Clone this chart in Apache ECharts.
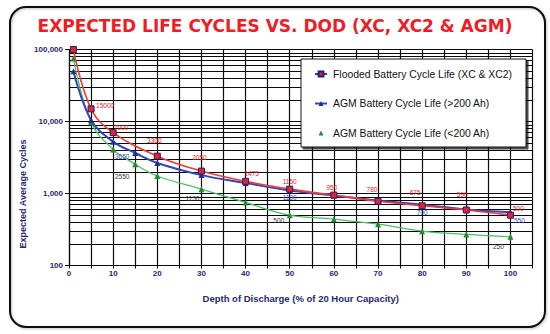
<!DOCTYPE html>
<html>
<head>
<meta charset="utf-8">
<script src="https://cdn.jsdelivr.net/npm/echarts@6/dist/echarts.min.js"></script>
<style>html,body{margin:0;padding:0;background:#fff;}#c{width:550px;height:334px;}</style>
</head>
<body>
<div id="c"></div>
<script>
// ---- data ----
const titleText = 'EXPECTED LIFE CYCLES VS. DOD (XC, XC2 & AGM)';
const xAxisTitle = 'Depth of Discharge (% of 20 Hour Capacity)';
const yAxisTitle = 'Expected Average Cycles';
const seriesNames = ['Flooded Battery Cycle Life (XC & XC2)', 'AGM Battery Cycle Life (>200 Ah)', 'AGM Battery Cycle Life (<200 Ah)'];
const dod = [1, 5, 10, 15, 20, 30, 40, 50, 60, 70, 80, 90, 100];
const flooded = [100000, 15000, 7000, null, 3300, 2050, 1475, 1150, 950, 780, 675, 590, 500];
const agmLarge = [50000, 10500, 5250, 3650, 2650, 1800, 1400, 1100, 940, 800, 700, 600, 550];
const agmSmall = [75000, 9800, 4100, 2550, 1750, 1150, 750, 500, 440, 375, 300, 270, 250];
const floodedLabels = ['', '15000', '7000', '', '3300', '2050', '1475', '1150', '950', '780', '675', '590', '500'];
const agmLargeLabels = ['', '', '', '3650', '', '', '', '1100', '', '', '700', '', '550'];
const agmSmallLabels = ['', '', '', '2550', '', '1150', '', '500', '', '', '', '', '250'];
const xTicks = [0, 10, 20, 30, 40, 50, 60, 70, 80, 90, 100];
const yTickLabels = {100: '100', 1000: '1,000', 10000: '10,000', 100000: '100,000'};
const yMinorLines = [200, 300, 400, 500, 600, 700, 800, 900, 2000, 3000, 4000, 5000, 6000, 7000, 8000, 9000, 20000, 30000, 40000, 50000, 60000, 70000, 80000, 90000];

// ---- style config (label offsets in px, by point index) ----
const labelOffsets = [
  {1: [14, -3], 2: [8, -5], 4: [-3, -16], 5: [-2, -14], 6: [6, -8], 7: [0, -8], 8: [-2, -8], 9: [-6, -12], 10: [-7, -13], 11: [-4, -15], 12: [8, -7]},
  {3: [-13, 3], 7: [0, 7], 10: [0, 8], 12: [9, 8]},
  {3: [-13, 12], 5: [-9, 9], 7: [-11, 5], 12: [-12, 10]}
];
const labelColors = ['#e3241b', '#3a4bb0', '#333333'];

function build(values, labels, idx) {
  const out = [];
  values.forEach((v, i) => {
    if (v == null) return;
    const item = {value: [dod[i], v]};
    if (labels[i]) {
      item.label = {show: true, formatter: labels[i], position: 'inside', offset: labelOffsets[idx][i] || [0, 0],
        color: labelColors[idx], fontSize: 6.5, fontFamily: 'Liberation Sans'};
    }
    out.push(item);
  });
  return out;
}

const navy = '#1f2a6e';
const gridColor = '#0a0a0a';
const chart = echarts.init(document.getElementById('c'), null, {renderer: 'svg'});
chart.setOption({
  animation: false,
  backgroundColor: '#ffffff',
  title: {
    text: titleText, left: 'center', top: 12,
    textStyle: {color: '#ee1c25', fontSize: 17, fontWeight: 'bold', fontFamily: 'DejaVu Sans'}
  },
  graphic: [
    {type: 'rect', shape: {x: 10, y: 7, width: 535, height: 320, r: 16}, z: -1,
      style: {fill: 'none', stroke: '#111', lineWidth: 2, shadowColor: 'rgba(0,0,0,0.25)', shadowBlur: 2, shadowOffsetX: 1, shadowOffsetY: 1}},
    {type: 'text', x: 23, y: 194, rotation: Math.PI / 2,
      style: {text: yAxisTitle, fill: navy, font: 'bold 9px "Liberation Sans"', textAlign: 'center', textVerticalAlign: 'middle'}}
  ],
  legend: {
    orient: 'vertical', left: 301, top: 59,
    padding: [10, 14, 9, 13], itemGap: 19.5, itemWidth: 12, itemHeight: 6,
    backgroundColor: '#fff', borderColor: '#111', borderWidth: 1,
    shadowColor: 'rgba(0,0,0,0.7)', shadowOffsetX: 2, shadowOffsetY: 2, shadowBlur: 0,
    textStyle: {color: '#111', fontSize: 10.4, fontFamily: 'Liberation Sans', padding: [0, 0, 0, 1]},
    data: [
      {name: seriesNames[0], lineStyle: {color: '#3a3a9a'}},
      {name: seriesNames[1]},
      {name: seriesNames[2], lineStyle: {opacity: 0}}
    ]
  },
  grid: {left: 69, top: 49.5, width: 463.5, height: 216},
  xAxis: {
    type: 'value', min: 0, max: 105, interval: 5,
    name: xAxisTitle, nameLocation: 'middle', nameGap: 28,
    nameTextStyle: {color: navy, fontSize: 9.5, fontWeight: 'bold', fontFamily: 'Liberation Sans'},
    axisLine: {show: true, lineStyle: {color: gridColor, width: 1.2}},
    axisTick: {show: true, length: 3, lineStyle: {color: gridColor}},
    axisLabel: {color: navy, fontSize: 8, fontWeight: 'bold', fontFamily: 'Liberation Sans', margin: 4,
      formatter: v => xTicks.indexOf(v) >= 0 ? String(v) : ''},
    splitLine: {show: true, lineStyle: {color: gridColor, width: 1.2}}
  },
  yAxis: {
    type: 'log', logBase: 10, min: 100, max: 100000,
    axisLine: {show: true, lineStyle: {color: gridColor, width: 1.2}},
    axisTick: {show: true, length: 4, lineStyle: {color: gridColor}},
    axisLabel: {color: navy, fontSize: 8, fontWeight: 'bold', fontFamily: 'Liberation Sans', margin: 6,
      formatter: v => yTickLabels[Math.round(v)] || ''},
    splitLine: {show: true, lineStyle: {color: gridColor, width: 1.2}}
  },
  series: [
    {
      name: seriesNames[2], type: 'line', smooth: 0.4, z: 3,
      data: build(agmSmall, agmSmallLabels, 2),
      symbol: 'triangle', symbolSize: 6,
      itemStyle: {color: '#1e8c34'},
      lineStyle: {color: '#4cc062', width: 1.3},
      markLine: {silent: true, symbol: 'none', label: {show: false}, z: 1,
        lineStyle: {color: gridColor, width: 1.2, type: 'solid'},
        data: yMinorLines.map(v => ({yAxis: v}))}
    },
    {
      name: seriesNames[1], type: 'line', smooth: 0.4, z: 4,
      data: build(agmLarge, agmLargeLabels, 1),
      symbol: 'triangle', symbolSize: 6,
      itemStyle: {color: '#1f2f8f'},
      lineStyle: {color: '#3546b8', width: 2}
    },
    {
      name: seriesNames[0], type: 'line', smooth: 0.4, z: 5,
      data: build(flooded, floodedLabels, 0),
      symbol: 'rect', symbolSize: 6,
      itemStyle: {color: '#e8212b', borderColor: '#1f1f7a', borderWidth: 1},
      lineStyle: {color: '#f23a3a', width: 1.6}
    }
  ]
});
</script>
</body>
</html>
